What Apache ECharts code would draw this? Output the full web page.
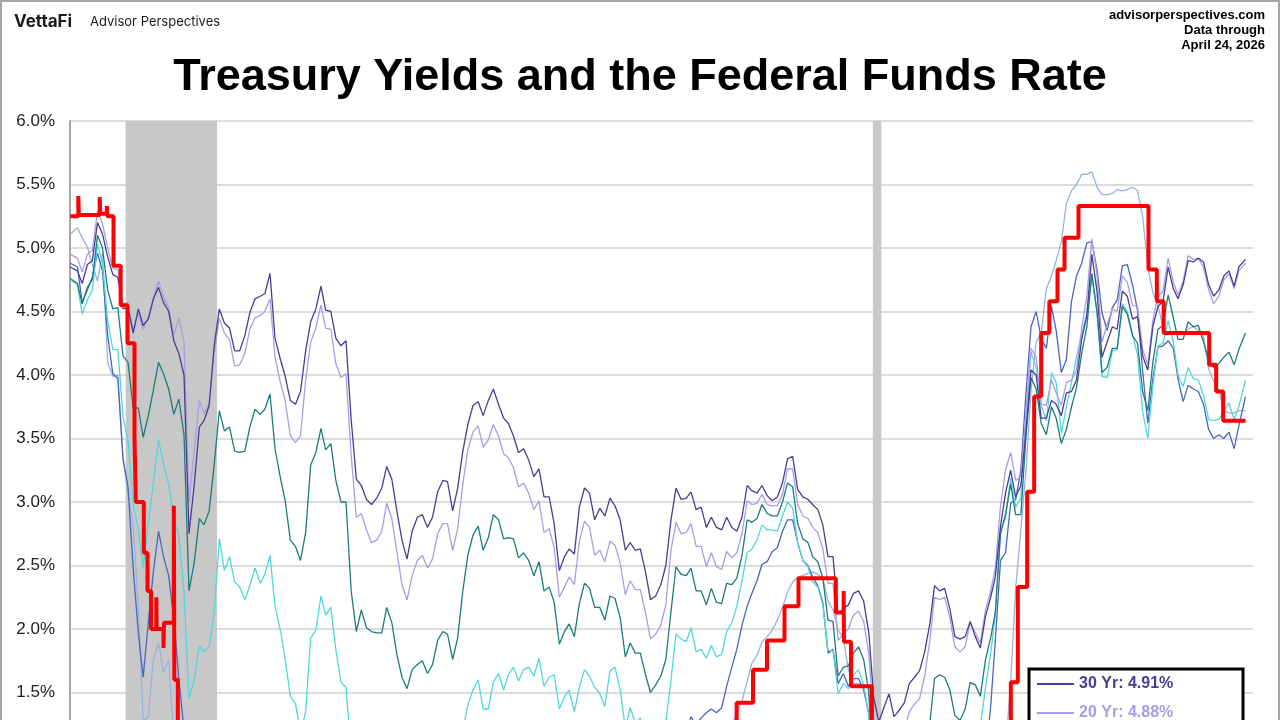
<!DOCTYPE html>
<html>
<head>
<meta charset="UTF-8">
<title>Treasury Yields and the Federal Funds Rate</title>
<script src="https://cdn.jsdelivr.net/npm/echarts@6/dist/echarts.min.js"></script>
<style>
    html, body { margin: 0; padding: 0; overflow: hidden; background: #fff; }
    #chart { position: absolute; left: 0; top: 0; width: 1280px; height: 960px; }
    #frame { position: absolute; left: 0; top: 0; width: 1280px; height: 960px; box-sizing: border-box;
             border: 2px solid #a6a6a6; pointer-events: none; }
</style>
</head>
<body>
<div id="chart"></div>
<div id="frame"></div>
<script>
// monthly points, Jan 2007 .. Apr 2026 (mid-month, last = Apr 24 2026)
var firstDate = '2007-01-03';
var lastDate = '2026-04-24';

var y30 = [
    4.85, 4.82, 4.72, 4.87, 4.90, 5.20, 5.11, 4.93, 4.79, 4.77, 4.52, 4.53, // 2007
    4.33, 4.52, 4.39, 4.44, 4.60, 4.69, 4.57, 4.50, 4.27, 4.17, 4.00, 2.75, // 2008
    3.13, 3.59, 3.64, 3.76, 4.23, 4.52, 4.41, 4.37, 4.19, 4.19, 4.31, 4.49, // 2009
    4.60, 4.62, 4.64, 4.80, 4.29, 4.13, 3.99, 3.80, 3.77, 3.87, 4.19, 4.42, // 2010
    4.52, 4.70, 4.51, 4.50, 4.29, 4.23, 4.27, 3.65, 3.18, 3.13, 3.02, 2.98, // 2011
    3.03, 3.11, 3.28, 3.18, 2.93, 2.70, 2.55, 2.77, 2.88, 2.90, 2.80, 2.88, // 2012
    3.08, 3.17, 3.16, 2.93, 3.11, 3.40, 3.61, 3.76, 3.79, 3.68, 3.80, 3.89, // 2013
    3.77, 3.66, 3.62, 3.52, 3.39, 3.42, 3.33, 3.20, 3.26, 3.04, 3.04, 2.83, // 2014
    2.46, 2.57, 2.63, 2.59, 2.96, 3.11, 3.07, 2.86, 2.95, 2.89, 3.03, 2.97, // 2015
    2.86, 2.62, 2.68, 2.62, 2.63, 2.45, 2.23, 2.26, 2.35, 2.50, 2.86, 3.11, // 2016
    3.02, 3.03, 3.08, 2.94, 2.96, 2.80, 2.88, 2.80, 2.78, 2.88, 2.80, 2.77, // 2017
    2.88, 3.13, 3.09, 3.07, 3.13, 3.05, 3.01, 3.04, 3.15, 3.34, 3.36, 3.10, // 2018
    3.04, 3.02, 2.98, 2.94, 2.82, 2.57, 2.57, 2.12, 2.16, 2.19, 2.28, 2.30, // 2019
    2.22, 1.97, 1.46, 1.27, 1.38, 1.49, 1.31, 1.36, 1.42, 1.57, 1.62, 1.67, // 2020
    1.82, 2.04, 2.34, 2.30, 2.32, 2.16, 1.94, 1.92, 1.94, 2.06, 1.94, 1.85, // 2021
    2.10, 2.25, 2.41, 2.81, 3.07, 3.25, 3.04, 3.13, 3.56, 4.04, 4.00, 3.66, // 2022
    3.66, 3.80, 3.77, 3.68, 3.86, 3.87, 3.96, 4.28, 4.47, 4.95, 4.66, 4.14, // 2023
    4.26, 4.38, 4.36, 4.66, 4.62, 4.44, 4.46, 4.15, 4.04, 4.38, 4.54, 4.58, // 2024
    4.85, 4.68, 4.60, 4.71, 4.90, 4.89, 4.92, 4.89, 4.71, 4.62, 4.67, 4.78, // 2025
    4.82, 4.70, 4.85, 4.91                                                  // 2026
];

var y20 = [
    4.95, 4.92, 4.81, 4.95, 4.98, 5.29, 5.19, 5.00, 4.84, 4.83, 4.56, 4.57,
    4.35, 4.49, 4.36, 4.46, 4.60, 4.74, 4.62, 4.53, 4.32, 4.45, 4.27, 3.00,
    3.40, 3.80, 3.70, 3.78, 4.16, 4.45, 4.33, 4.28, 4.07, 4.08, 4.17, 4.36,
    4.45, 4.47, 4.50, 4.60, 4.14, 3.95, 3.80, 3.52, 3.47, 3.52, 3.96, 4.26,
    4.37, 4.55, 4.37, 4.36, 4.09, 3.98, 4.01, 3.37, 2.88, 2.91, 2.78, 2.68,
    2.70, 2.77, 2.99, 2.87, 2.61, 2.35, 2.23, 2.42, 2.54, 2.58, 2.48, 2.55,
    2.75, 2.83, 2.83, 2.62, 2.79, 3.14, 3.41, 3.55, 3.60, 3.43, 3.49, 3.61,
    3.52, 3.38, 3.35, 3.27, 3.12, 3.15, 3.07, 2.94, 3.01, 2.76, 2.79, 2.64,
    2.25, 2.33, 2.41, 2.35, 2.69, 2.85, 2.80, 2.58, 2.62, 2.53, 2.69, 2.66,
    2.52, 2.27, 2.38, 2.31, 2.31, 2.13, 1.92, 1.96, 2.03, 2.19, 2.62, 2.84,
    2.75, 2.76, 2.83, 2.65, 2.65, 2.49, 2.60, 2.49, 2.47, 2.61, 2.56, 2.60,
    2.75, 3.01, 2.98, 2.99, 3.06, 2.98, 2.97, 2.97, 3.06, 3.26, 3.26, 2.98,
    2.89, 2.87, 2.80, 2.76, 2.63, 2.36, 2.36, 1.91, 1.96, 2.00, 2.11, 2.14,
    2.06, 1.80, 1.30, 1.07, 1.15, 1.28, 1.09, 1.12, 1.20, 1.35, 1.41, 1.45,
    1.63, 1.91, 2.25, 2.23, 2.25, 2.09, 1.86, 1.82, 1.86, 2.05, 1.97, 1.89,
    2.15, 2.30, 2.48, 2.97, 3.25, 3.39, 3.17, 3.20, 3.69, 4.21, 4.14, 3.77,
    3.76, 3.96, 3.86, 3.76, 3.94, 3.96, 4.04, 4.37, 4.62, 5.07, 4.79, 4.26,
    4.40, 4.52, 4.50, 4.78, 4.73, 4.55, 4.54, 4.20, 4.08, 4.43, 4.62, 4.66,
    4.92, 4.73, 4.63, 4.74, 4.94, 4.91, 4.92, 4.85, 4.67, 4.56, 4.62, 4.75,
    4.80, 4.68, 4.82, 4.88
];

var y10 = [
    4.76, 4.72, 4.56, 4.69, 4.75, 5.10, 5.00, 4.67, 4.52, 4.53, 4.15, 4.10,
    3.74, 3.74, 3.51, 3.68, 3.88, 4.10, 4.01, 3.89, 3.69, 3.81, 3.53, 2.30,
    2.52, 2.87, 2.82, 2.93, 3.29, 3.72, 3.56, 3.59, 3.40, 3.39, 3.40, 3.59,
    3.73, 3.69, 3.73, 3.85, 3.42, 3.20, 3.01, 2.70, 2.65, 2.54, 2.76, 3.29,
    3.39, 3.58, 3.41, 3.46, 3.17, 3.00, 3.00, 2.30, 1.98, 2.15, 2.01, 1.98,
    1.97, 1.97, 2.17, 2.05, 1.80, 1.62, 1.53, 1.68, 1.72, 1.75, 1.65, 1.72,
    1.91, 1.98, 1.96, 1.76, 1.93, 2.30, 2.58, 2.74, 2.81, 2.62, 2.72, 2.90,
    2.86, 2.71, 2.72, 2.71, 2.56, 2.60, 2.54, 2.42, 2.53, 2.30, 2.33, 2.21,
    1.88, 1.98, 2.04, 1.94, 2.20, 2.36, 2.32, 2.17, 2.17, 2.07, 2.26, 2.24,
    2.09, 1.78, 1.89, 1.81, 1.81, 1.64, 1.50, 1.56, 1.63, 1.76, 2.14, 2.49,
    2.43, 2.42, 2.48, 2.30, 2.30, 2.19, 2.32, 2.21, 2.20, 2.36, 2.35, 2.40,
    2.58, 2.86, 2.84, 2.87, 2.98, 2.91, 2.89, 2.89, 3.00, 3.15, 3.12, 2.83,
    2.71, 2.68, 2.57, 2.53, 2.40, 2.07, 2.06, 1.63, 1.70, 1.71, 1.81, 1.86,
    1.76, 1.50, 0.87, 0.66, 0.67, 0.73, 0.62, 0.65, 0.68, 0.79, 0.87, 0.93,
    1.08, 1.26, 1.61, 1.64, 1.62, 1.52, 1.32, 1.28, 1.37, 1.58, 1.56, 1.47,
    1.76, 1.93, 2.13, 2.75, 2.90, 3.14, 2.90, 2.90, 3.52, 3.98, 3.89, 3.62,
    3.53, 3.75, 3.66, 3.46, 3.57, 3.75, 3.90, 4.17, 4.38, 4.80, 4.50, 4.02,
    4.06, 4.21, 4.21, 4.54, 4.48, 4.31, 4.25, 3.87, 3.72, 4.10, 4.36, 4.39,
    4.63, 4.45, 4.28, 4.28, 4.42, 4.38, 4.39, 4.26, 4.12, 4.06, 4.09, 4.14,
    4.18, 4.08, 4.20, 4.33
];

var y5 = [
    4.75, 4.71, 4.48, 4.59, 4.67, 5.03, 4.88, 4.43, 4.20, 4.20, 3.67, 3.49,
    2.98, 2.78, 2.48, 2.84, 3.15, 3.49, 3.30, 3.14, 2.88, 2.73, 2.29, 1.45,
    1.60, 1.87, 1.82, 1.86, 2.13, 2.71, 2.46, 2.57, 2.37, 2.33, 2.23, 2.34,
    2.48, 2.36, 2.43, 2.58, 2.18, 2.00, 1.76, 1.47, 1.41, 1.18, 1.35, 1.93,
    1.99, 2.26, 2.11, 2.17, 1.84, 1.58, 1.54, 1.02, 0.90, 1.06, 0.91, 0.89,
    0.84, 0.83, 1.02, 0.89, 0.76, 0.71, 0.62, 0.71, 0.67, 0.71, 0.67, 0.70,
    0.81, 0.85, 0.82, 0.71, 0.84, 1.20, 1.40, 1.52, 1.60, 1.37, 1.37, 1.58,
    1.65, 1.52, 1.64, 1.70, 1.59, 1.68, 1.70, 1.63, 1.77, 1.55, 1.62, 1.64,
    1.37, 1.47, 1.52, 1.35, 1.54, 1.68, 1.63, 1.54, 1.49, 1.39, 1.67, 1.70,
    1.52, 1.22, 1.38, 1.26, 1.30, 1.17, 1.07, 1.13, 1.18, 1.27, 1.60, 1.96,
    1.92, 1.90, 2.01, 1.82, 1.84, 1.77, 1.87, 1.78, 1.80, 1.98, 2.05, 2.18,
    2.38, 2.60, 2.63, 2.70, 2.82, 2.78, 2.78, 2.77, 2.89, 3.00, 2.95, 2.68,
    2.54, 2.49, 2.37, 2.33, 2.19, 1.83, 1.83, 1.49, 1.57, 1.53, 1.64, 1.68,
    1.56, 1.32, 0.59, 0.39, 0.34, 0.34, 0.28, 0.27, 0.27, 0.34, 0.39, 0.39,
    0.45, 0.54, 0.82, 0.86, 0.82, 0.84, 0.76, 0.77, 0.86, 1.11, 1.20, 1.23,
    1.54, 1.81, 2.11, 2.78, 2.87, 3.19, 2.96, 3.03, 3.70, 4.18, 4.06, 3.76,
    3.64, 4.02, 3.94, 3.54, 3.75, 3.94, 4.14, 4.31, 4.49, 4.77, 4.49, 3.99,
    3.98, 4.19, 4.20, 4.56, 4.50, 4.32, 4.16, 3.71, 3.50, 3.91, 4.23, 4.25,
    4.43, 4.26, 4.00, 3.91, 4.06, 3.97, 3.96, 3.84, 3.65, 3.64, 3.65, 3.72,
    3.78, 3.65, 3.75, 3.96
];

var y2 = [
    4.88, 4.85, 4.57, 4.67, 4.77, 4.96, 4.82, 4.31, 4.01, 3.97, 3.34, 3.12,
    2.48, 1.97, 1.62, 2.05, 2.45, 2.77, 2.57, 2.42, 2.08, 1.61, 1.21, 0.82,
    0.81, 0.98, 0.93, 0.93, 0.92, 1.18, 1.02, 1.12, 0.96, 0.95, 0.80, 0.87,
    0.93, 0.86, 0.96, 1.06, 0.83, 0.72, 0.62, 0.52, 0.47, 0.38, 0.45, 0.62,
    0.61, 0.77, 0.70, 0.73, 0.56, 0.41, 0.41, 0.23, 0.21, 0.28, 0.25, 0.26,
    0.24, 0.28, 0.34, 0.29, 0.29, 0.29, 0.25, 0.27, 0.26, 0.28, 0.27, 0.26,
    0.27, 0.27, 0.26, 0.23, 0.25, 0.33, 0.34, 0.36, 0.40, 0.34, 0.30, 0.34,
    0.39, 0.33, 0.40, 0.42, 0.39, 0.45, 0.51, 0.47, 0.57, 0.45, 0.53, 0.64,
    0.55, 0.62, 0.64, 0.54, 0.61, 0.69, 0.67, 0.70, 0.71, 0.64, 0.88, 0.98,
    0.90, 0.73, 0.88, 0.77, 0.82, 0.73, 0.67, 0.74, 0.77, 0.84, 0.98, 1.20,
    1.21, 1.20, 1.31, 1.24, 1.30, 1.34, 1.37, 1.34, 1.38, 1.55, 1.70, 1.84,
    2.03, 2.18, 2.28, 2.38, 2.51, 2.53, 2.61, 2.64, 2.77, 2.86, 2.86, 2.68,
    2.54, 2.50, 2.41, 2.34, 2.21, 1.81, 1.84, 1.57, 1.65, 1.55, 1.61, 1.61,
    1.52, 1.33, 0.45, 0.23, 0.17, 0.19, 0.14, 0.14, 0.13, 0.14, 0.17, 0.14,
    0.13, 0.12, 0.15, 0.16, 0.16, 0.20, 0.22, 0.22, 0.24, 0.39, 0.53, 0.69,
    0.98, 1.39, 1.91, 2.54, 2.60, 2.99, 3.02, 3.25, 3.86, 4.38, 4.50, 4.29,
    4.21, 4.54, 4.35, 4.02, 4.12, 4.58, 4.78, 4.88, 5.04, 5.05, 4.83, 4.49,
    4.35, 4.53, 4.59, 4.86, 4.87, 4.71, 4.51, 4.03, 3.62, 3.97, 4.22, 4.23,
    4.27, 4.21, 3.97, 3.79, 3.92, 3.89, 3.87, 3.77, 3.57, 3.50, 3.53, 3.50,
    3.55, 3.42, 3.60, 3.83
];

var m3 = [
    5.11, 5.16, 5.08, 5.01, 4.87, 4.74, 4.96, 4.10, 3.99, 4.00, 3.35, 3.07,
    2.82, 2.17, 1.28, 1.31, 1.76, 1.89, 1.66, 1.75, 1.15, 0.69, 0.19, 0.03,
    0.13, 0.30, 0.22, 0.16, 0.18, 0.18, 0.18, 0.17, 0.12, 0.07, 0.05, 0.05,
    0.06, 0.11, 0.15, 0.16, 0.16, 0.12, 0.16, 0.16, 0.15, 0.13, 0.14, 0.14,
    0.15, 0.13, 0.10, 0.06, 0.04, 0.04, 0.04, 0.02, 0.01, 0.02, 0.01, 0.01,
    0.03, 0.09, 0.08, 0.08, 0.09, 0.09, 0.10, 0.10, 0.11, 0.10, 0.09, 0.07,
    0.07, 0.10, 0.09, 0.06, 0.04, 0.05, 0.04, 0.04, 0.02, 0.05, 0.07, 0.07,
    0.04, 0.05, 0.05, 0.03, 0.03, 0.04, 0.03, 0.03, 0.02, 0.02, 0.02, 0.03,
    0.03, 0.02, 0.03, 0.02, 0.02, 0.02, 0.03, 0.07, 0.02, 0.02, 0.13, 0.23,
    0.26, 0.31, 0.30, 0.23, 0.28, 0.27, 0.30, 0.30, 0.29, 0.33, 0.45, 0.51,
    0.52, 0.53, 0.75, 0.81, 0.90, 1.00, 1.09, 1.03, 1.05, 1.09, 1.25, 1.34,
    1.43, 1.59, 1.73, 1.79, 1.90, 1.94, 1.99, 2.07, 2.17, 2.29, 2.37, 2.41,
    2.42, 2.44, 2.45, 2.43, 2.40, 2.22, 2.15, 1.99, 1.93, 1.68, 1.57, 1.57,
    1.55, 1.54, 0.30, 0.14, 0.13, 0.16, 0.13, 0.10, 0.11, 0.10, 0.09, 0.09,
    0.08, 0.04, 0.03, 0.02, 0.02, 0.04, 0.05, 0.05, 0.04, 0.05, 0.05, 0.06,
    0.15, 0.33, 0.45, 0.79, 1.06, 1.58, 2.32, 2.78, 3.25, 3.87, 4.26, 4.33,
    4.68, 4.78, 4.90, 5.05, 5.35, 5.45, 5.50, 5.58, 5.58, 5.60, 5.48, 5.42,
    5.42, 5.43, 5.46, 5.45, 5.46, 5.48, 5.45, 5.25, 4.85, 4.65, 4.55, 4.37,
    4.33, 4.33, 4.32, 4.33, 4.36, 4.38, 4.35, 4.30, 4.05, 3.95, 3.88, 3.72,
    3.70, 3.70, 3.72, 3.72
];

// effective fed funds rate, value from each date on
var ffDates = [
    '2007-01-03', '2007-02-20', '2007-02-23', '2007-06-28', '2007-07-02', '2007-08-10', '2007-08-14',
    '2007-09-19', '2007-11-01', '2007-12-12',
    '2008-01-23', '2008-01-31', '2008-03-19', '2008-04-10', '2008-05-01', '2008-06-02', '2008-06-04',
    '2008-07-15', '2008-07-18', '2008-09-15', '2008-09-18', '2008-10-09', '2008-10-30', '2008-12-16',
    '2010-03-01', '2011-06-01', '2012-01-03', '2014-01-02', '2015-12-17',
    '2016-12-15', '2017-03-16', '2017-06-15', '2017-12-14', '2018-03-22', '2018-06-14',
    '2018-09-27', '2018-12-20', '2019-08-01', '2019-09-17', '2019-09-19', '2019-10-31',
    '2020-03-04', '2020-03-16', '2020-04-01', '2022-03-17', '2022-05-05', '2022-06-16',
    '2022-07-28', '2022-09-22', '2022-11-03', '2022-12-15', '2023-02-02', '2023-03-23',
    '2023-05-04', '2023-07-27', '2024-09-19', '2024-11-08', '2024-12-19', '2025-09-18',
    '2025-10-30', '2025-12-11', '2026-04-24'
];
var ffValues = [
    5.25, 5.41, 5.26, 5.40, 5.27, 5.33, 5.25,
    4.86, 4.55, 4.25,
    3.50, 3.00, 2.60, 2.30, 2.00, 2.25, 2.00,
    1.85, 2.05, 2.97, 1.60, 1.20, 0.70, 0.15,
    0.15, 0.09, 0.10, 0.08, 0.37,
    0.66, 0.91, 1.16, 1.42, 1.68, 1.91,
    2.18, 2.40, 2.13, 2.30, 1.90, 1.55,
    1.10, 0.25, 0.05, 0.33, 0.83, 1.58,
    2.33, 3.08, 3.83, 4.33, 4.58, 4.83,
    5.08, 5.33, 4.83, 4.58, 4.33, 4.08,
    3.87, 3.64, 3.64
];

// recessions
var recessions = [['2007-12-01', '2009-06-01'], ['2020-03-10', '2020-04-30']];

var names = ['30 Yr', '20 Yr', '10 Yr', '5 Yr', '2 Yr', '3 Mo', 'Fed Funds'];
var colors = ['#4a3c92', '#a89de6', '#1c7c79', '#4fd8dc', '#4a64bf', '#96b3e2', '#ff0000'];

// month dates
var months = [];
for (var y = 2007; y <= 2026; y++) {
    for (var m = 1; m <= 12; m++) {
        if (months.length >= y30.length) break;
        months.push(y + '-' + (m < 10 ? '0' + m : m) + '-15');
    }
}
months[0] = firstDate;
months[months.length - 1] = lastDate;

function pairs(dates, vals) {
    return dates.map(function (d, i) { return [d, vals[i]]; });
}

var chart = echarts.init(document.getElementById('chart'));

var lineData = [y30, y20, y10, y5, y2, m3];
var lastVals = {};
names.forEach(function (n, i) {
    lastVals[n] = i < 6 ? lineData[i][lineData[i].length - 1] : ffValues[ffValues.length - 1];
});

var series = [{
    type: 'line', name: 'rec', data: [], z: 1, silent: true,
    markArea: {
        silent: true,
        itemStyle: { color: '#c8c8c8', opacity: 1 },
        data: recessions.map(function (r) { return [{ xAxis: r[0] }, { xAxis: r[1] }]; })
    }
}];
// draw order: 3 Mo at the back, fed funds in front
[5, 4, 3, 2, 1, 0].forEach(function (i) {
    series.push({
        name: names[i], type: 'line', symbol: 'none', z: 2,
        data: pairs(months, lineData[i]),
        lineStyle: { color: colors[i], width: 1.3 },
        itemStyle: { color: colors[i] }
    });
});
series.push({
    name: 'Fed Funds', type: 'line', symbol: 'none', step: 'end', z: 3,
    data: pairs(ffDates, ffValues),
    lineStyle: { color: colors[6], width: 4 },
    itemStyle: { color: colors[6] }
});

var option = {
    animation: false,
    backgroundColor: '#fff',
    textStyle: { fontFamily: 'Liberation Sans, Arial, sans-serif' },
    title: {
        text: 'Treasury Yields and the Federal Funds Rate',
        left: 'center', top: 50,
        textStyle: { fontSize: 45, fontWeight: 'bold', color: '#000', fontFamily: 'Liberation Sans, Arial, sans-serif' }
    },
    graphic: [
        { type: 'text', x: 14, y: 13,
          style: { text: 'VettaFi', font: 'bold 17px Inter, Liberation Sans, sans-serif', fill: '#1a1a1a' } },
        { type: 'text', x: 90, y: 16,
          style: { text: 'Advisor Perspectives', font: '13px Inter, Liberation Sans, sans-serif', fill: '#1a1a1a' } },
        { type: 'text', x: 1265, y: 8,
          style: { text: 'advisorperspectives.com\nData through\nApril 24, 2026',
                   align: 'right', textAlign: 'right',
                   font: 'bold 13px Liberation Sans, Arial, sans-serif', lineHeight: 15, fill: '#000' } }
    ],
    legend: {
        orient: 'vertical',
        left: 1029, top: 669,
        backgroundColor: '#fff',
        borderColor: '#000', borderWidth: 3,
        padding: [6, 28, 8, 8],
        itemGap: 11,
        icon: 'rect',
        itemWidth: 37, itemHeight: 2,
        data: names.map(function (n, i) {
            return { name: n, textStyle: { color: colors[i], fontSize: 16, fontWeight: 'bold', height: 18, lineHeight: 18 } };
        }),
        formatter: function (n) { return n + ': ' + lastVals[n].toFixed(2) + '%'; }
    },
    grid: { left: 70, top: 121, right: 27, height: 762 },
    xAxis: {
        type: 'time',
        min: '2007-01-01', max: '2026-06-08',
        axisLine: { show: true, lineStyle: { color: '#a6a6a6', width: 2 } },
        axisTick: { show: false },
        splitLine: { show: false },
        axisLabel: { formatter: '{yyyy}', color: '#222', fontSize: 15 }
    },
    yAxis: {
        type: 'value', min: 0, max: 6, interval: 0.5,
        axisLine: { show: true, lineStyle: { color: '#a6a6a6', width: 2 } },
        axisTick: { show: false },
        splitLine: { lineStyle: { color: '#dcdcdc', width: 2 } },
        axisLabel: {
            margin: 15, fontSize: 17, color: '#222',
            formatter: function (v) { return v.toFixed(1) + '%'; }
        }
    },
    series: series
};
chart.setOption(option);
</script>
</body>
</html>
